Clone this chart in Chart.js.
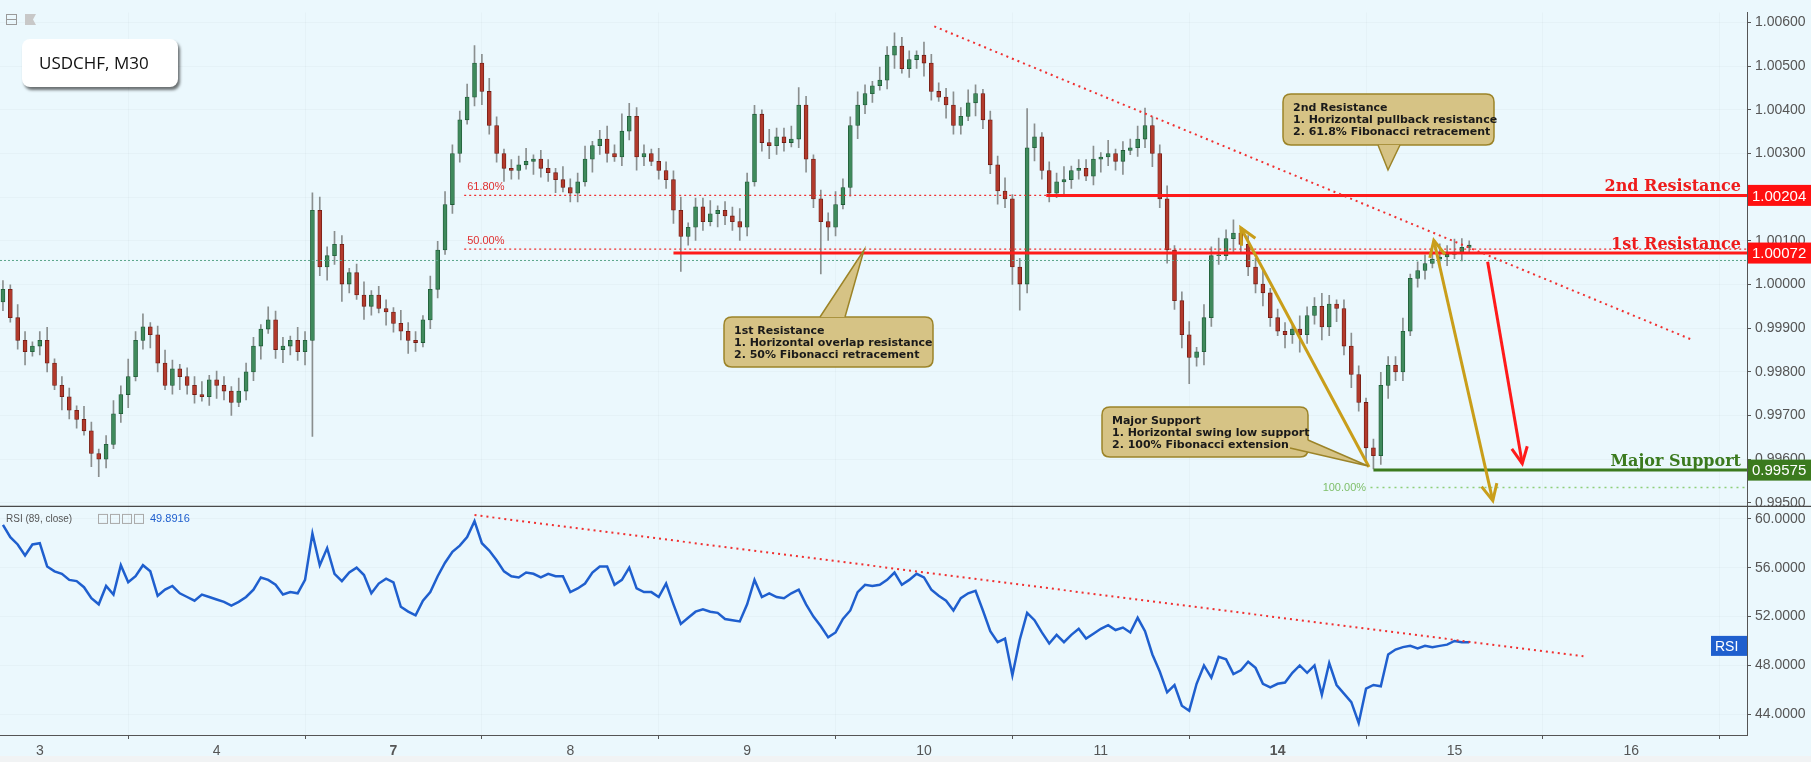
<!DOCTYPE html>
<html><head><meta charset="utf-8">
<script src="https://cdn.jsdelivr.net/npm/chart.js@4"></script>
<style>html,body{margin:0;padding:0;background:#ebf8fd;}canvas{display:block}</style>
</head><body>
<canvas id="c" width="1811" height="762"></canvas>
<script>
const dayTicks = [5,29,53,77,101,125,149,173,197,221];
const dayLabels = ['3','4','7','8','9','10','11','14','15','16'];
const priceTicks = [0.995,0.996,0.997,0.998,0.999,1.000,1.001,1.002,1.003,1.004,1.005,1.006];
const rsiTicks = [44,48,52,56,60];
const firstOpen = 0.99960;
const closes = [
0.99989,0.99924,0.99872,0.99846,0.99859,0.99872,0.99820,0.99769,0.99743,0.99712,
0.99691,0.99665,0.99613,0.99600,0.99634,0.99704,0.99748,0.99789,0.99872,0.99903,
0.99885,0.99820,0.99769,0.99807,0.99789,0.99769,0.99748,0.99743,0.99782,0.99769,
0.99756,0.99730,0.99756,0.99800,0.99859,0.99898,0.99919,0.99851,0.99859,0.99872,
0.99846,0.99872,1.00170,1.00040,1.00066,1.00092,1.00001,1.00027,0.99976,0.99950,
0.99976,0.99945,0.99937,0.99911,0.99893,0.99872,0.99867,0.99919,0.99989,1.00079,
1.00183,1.00300,1.00377,1.00429,1.00507,1.00442,1.00364,1.00300,1.00266,1.00261,
1.00274,1.00282,1.00287,1.00266,1.00256,1.00240,1.00222,1.00209,1.00235,1.00287,
1.00318,1.00333,1.00300,1.00292,1.00351,1.00385,1.00292,1.00300,1.00282,1.00261,
1.00240,1.00170,1.00110,1.00131,1.00178,1.00144,1.00162,1.00170,1.00157,1.00144,
1.00131,1.00235,1.00390,1.00325,1.00318,1.00338,1.00325,1.00333,1.00411,1.00287,
1.00196,1.00144,1.00131,1.00183,1.00222,1.00364,1.00411,1.00437,1.00455,1.00468,
1.00525,1.00546,1.00494,1.00515,1.00525,1.00507,1.00442,1.00429,1.00411,1.00364,
1.00385,1.00416,1.00437,1.00377,1.00274,1.00214,1.00196,1.00040,1.00001,1.00313,
1.00338,1.00261,1.00209,1.00235,1.00240,1.00261,1.00266,1.00248,1.00287,1.00292,
1.00300,1.00282,1.00307,1.00313,1.00333,1.00364,1.00300,1.00196,1.00079,0.99963,
0.99885,0.99833,0.99846,0.99924,1.00066,1.00066,1.00105,1.00118,1.00092,1.00040,
1.00001,0.99981,0.99924,0.99893,0.99885,0.99898,0.99885,0.99929,0.99950,0.99903,
0.99955,0.99945,0.99859,0.99794,0.99730,0.99626,0.99608,0.99769,0.99815,0.99800,
0.99893,1.00014,1.00032,1.00048,1.00058,1.00063,1.00069,1.00074,1.00085,1.00090];
const wickUpPips = [
2,1,3,2,1,2,3,1,2,2, 1,3,2,1,2,3,2,4,2,3, 1,2,3,2,1,2,2,3,1,2, 2,1,3,2,2,1,3,2,2,1,
3,2,4,3,2,3,2,1,2,3, 1,2,2,1,3,2,2,1,3,2, 3,2,2,3,4,2,3,2,1,2, 2,3,1,2,2,1,3,2,2,3,
1,2,3,2,4,3,2,2,1,3, 2,2,3,1,2,2,3,1,2,2, 3,2,2,1,3,2,2,3,4,2, 1,2,2,3,2,2,3,2,1,3,
2,3,2,2,1,3,2,2,2,3, 2,3,2,1,2,2,3,1,2,9, 3,1,2,2,3,1,2,2,3,1, 3,1,2,2,3,4,2,2,3,1,
2,3,1,3,2,4,2,3,1,2, 2,3,1,2,2,1,3,2,2,3, 2,1,2,3,2,1,2,3,2,2, 3,1,2,2,2,3,2,3,2,1];
const wickDnPips = [
2,1,2,3,1,2,2,1,3,2, 2,1,3,4,2,1,2,3,1,2, 3,2,1,2,3,2,2,1,2,3, 2,3,1,2,2,3,1,2,3,2,
2,3,22,2,3,2,4,2,1,3, 2,1,3,2,2,3,2,1,2,2, 1,2,2,1,2,3,2,2,3,2, 2,1,3,2,2,3,1,2,2,1,
3,2,2,1,2,2,3,2,1,2, 2,3,8,2,3,2,1,3,2,2, 3,2,1,2,3,2,2,1,2,3, 2,12,3,2,1,2,3,2,2,1,
2,3,1,2,2,3,2,1,3,2, 2,1,3,2,2,3,2,4,6,2, 3,2,2,1,3,2,2,1,2,3, 2,2,3,1,2,2,3,2,3,2,
3,6,2,3,2,2,1,3,2,2, 2,3,2,1,3,2,4,2,2,3, 2,3,2,3,2,3,3,2,3,2, 2,1,2,2,1,2,2,1,2,1];
const rsiValues = [
59.5,58.5,57.9,57.0,57.9,58.0,56.1,55.7,55.5,55.0, 54.9,54.4,53.5,53.0,54.5,53.8,56.2,54.8,55.3,56.2,
55.7,53.7,54.2,54.5,53.9,53.6,53.3,53.8,53.6,53.4, 53.2,52.9,53.2,53.6,54.2,55.2,55.0,54.6,53.8,54.0,
53.9,55.0,58.8,56.2,57.6,55.5,54.9,55.6,56.0,55.4, 53.9,54.7,55.1,54.8,52.8,52.4,52.1,53.3,54.0,55.3,
56.4,57.3,57.8,58.5,59.8,58.0,57.4,56.6,55.7,55.3, 55.2,55.6,55.5,55.2,55.5,55.3,55.3,54.0,54.3,54.7,
55.6,56.1,56.1,54.6,55.0,56.0,54.3,54.0,54.0,53.6, 54.7,53.0,51.4,51.9,52.4,52.6,52.4,52.3,51.8,51.7,
51.6,53.0,55.0,53.6,53.9,53.6,53.5,53.9,54.2,53.0, 52.0,51.2,50.3,50.7,51.8,52.5,54.0,54.6,54.5,54.6,
55.0,55.6,54.6,55.0,55.5,55.2,54.2,53.7,53.3,52.5, 53.5,53.9,54.1,52.5,50.8,49.9,50.2,47.2,50.1,52.3,
51.7,50.7,49.8,50.5,49.9,50.5,51.0,50.2,50.6,51.0, 51.3,50.9,51.1,50.7,51.9,50.8,48.9,47.5,45.8,46.4,
44.7,44.3,46.5,48.0,47.0,48.7,48.5,47.3,47.6,48.3, 47.8,46.5,46.2,46.5,46.6,47.4,48.0,47.4,48.0,45.6,
48.2,46.4,45.7,45.0,43.3,46.1,46.4,46.3,48.9,49.3, 49.5,49.6,49.4,49.6,49.5,49.6,49.7,50.0,49.9,49.9];

const bodies=[], wicks=[], bodyCol=[], bodyBorder=[];
for(let i=0;i<closes.length;i++){
  const o = i===0?firstOpen:closes[i-1], c = closes[i];
  const hi = Math.max(o,c)+wickUpPips[i]*0.0001, lo = Math.min(o,c)-wickDnPips[i]*0.0001;
  bodies.push({x:i,y:[o, c===o?c+0.00002:c]});
  wicks.push({x:i,y:[lo,hi]});
  const up=c>=o;
  bodyCol.push(up?'#3f8a5c':'#b23a2c'); bodyBorder.push(up?'#1f5a36':'#6e1a12');
}
const rsiPts = rsiValues.map((v,i)=>({x:i,y:v}));

const F='"Liberation Sans", Arial, sans-serif';
function tag(ctx,x,y,w,h,bg,txt,font,fg){ctx.fillStyle=bg;ctx.fillRect(x,y-h/2,w,h);ctx.fillStyle=fg;ctx.font=font;ctx.textBaseline='middle';ctx.textAlign='left';ctx.fillText(txt,x+4,y+1);}
function hline(ctx,x1,x2,y,col,w,dash){ctx.save();ctx.strokeStyle=col;ctx.lineWidth=w;ctx.setLineDash(dash||[]);ctx.beginPath();ctx.moveTo(x1,y);ctx.lineTo(x2,y);ctx.stroke();ctx.restore();}
function line(ctx,a,b,col,w,dash){ctx.save();ctx.strokeStyle=col;ctx.lineWidth=w;ctx.setLineDash(dash||[]);ctx.beginPath();ctx.moveTo(a[0],a[1]);ctx.lineTo(b[0],b[1]);ctx.stroke();ctx.restore();}
function head(ctx,from,to,col,w,len){const ang=Math.atan2(to[1]-from[1],to[0]-from[0]);ctx.save();ctx.strokeStyle=col;ctx.lineWidth=w;ctx.beginPath();
 ctx.moveTo(to[0]-len*Math.cos(ang-0.45),to[1]-len*Math.sin(ang-0.45));ctx.lineTo(to[0],to[1]);ctx.lineTo(to[0]-len*Math.cos(ang+0.45),to[1]-len*Math.sin(ang+0.45));ctx.stroke();ctx.restore();}
function callout(ctx,x,y,w,h,tip,base,lines){ctx.save();ctx.fillStyle='#d6c385';ctx.strokeStyle='#9c8428';ctx.lineWidth=1.5;
 const r=8;ctx.beginPath();ctx.moveTo(x+r,y);ctx.lineTo(x+w-r,y);ctx.quadraticCurveTo(x+w,y,x+w,y+r);ctx.lineTo(x+w,y+h-r);ctx.quadraticCurveTo(x+w,y+h,x+w-r,y+h);
 ctx.lineTo(x+r,y+h);ctx.quadraticCurveTo(x,y+h,x,y+h-r);ctx.lineTo(x,y+r);ctx.quadraticCurveTo(x,y,x+r,y);ctx.closePath();ctx.fill();ctx.stroke();
 ctx.beginPath();ctx.moveTo(base[0][0],base[0][1]);ctx.lineTo(tip[0],tip[1]);ctx.lineTo(base[1][0],base[1][1]);ctx.closePath();ctx.fill();
 ctx.beginPath();ctx.moveTo(base[0][0],base[0][1]);ctx.lineTo(tip[0],tip[1]);ctx.lineTo(base[1][0],base[1][1]);ctx.stroke();
 ctx.fillStyle='#1a1a1a';ctx.font='bold 11px "DejaVu Sans", Verdana, sans-serif';ctx.textAlign='left';ctx.textBaseline='alphabetic';
 lines.forEach((t,i)=>ctx.fillText(t,x+10,y+17+i*12));ctx.restore();}

const annot={id:'annot',
 beforeDraw(ch){const c=ch.ctx;c.save();c.fillStyle='#ebf8fd';c.fillRect(0,0,ch.width,ch.height);c.fillStyle='#f1f3f4';c.fillRect(0,ch.height-6,ch.width,6);c.restore();},
 afterDatasetsDraw(ch){
  const c=ch.ctx,X=ch.scales.x,Y=ch.scales.y,R=ch.scales.yr;const xr=Y.left;
  const px=h=>X.getPixelForValue(h), py=p=>Y.getPixelForValue(p), pr=v=>R.getPixelForValue(v);
  hline(c,0,xr,py(1.00055),'#5aa58a',1,[2,2]);
  hline(c,px(62.6),xr,py(1.00204),'#f03030',1.2,[2,3]);
  hline(c,px(62.6),xr,py(1.00081),'#f03030',1.2,[2,3]);
  c.save();c.font='11px '+F;c.fillStyle='#e03030';c.textBaseline='bottom';c.fillText('61.80%',px(63),py(1.00204)-3);c.fillText('50.00%',px(63),py(1.00081)-3);c.restore();
  hline(c,px(141.6),xr,py(1.00204),'#ff1a1a',3);
  hline(c,px(91),xr,py(1.00072),'#ff1a1a',3);
  hline(c,px(185.6),xr,py(0.99535),'#8fcf7a',1.5,[2,4]);
  hline(c,px(186),xr,py(0.99575),'#3b7a1e',3);
  c.save();c.font='11px '+F;c.fillStyle='#7fbf6a';c.textAlign='right';c.textBaseline='middle';c.fillText('100.00%',px(185),py(0.99535));c.restore();
  line(c,[px(126.4),py(1.00591)],[px(229.3),py(0.99873)],'#f03030',2,[2,4]);
  line(c,[px(64),pr(60.3)],[px(214.5),pr(48.75)],'#f03030',2,[2,4]);
  const g='#c99e1a';
  const a1=[px(185.4),py(0.99582)],a1t=[px(168),py(1.00130)];
  line(c,a1,a1t,g,3);head(c,a1,a1t,g,3,18);
  const a2=[px(194.2),py(1.00101)],a2b=[px(202.2),py(0.99505)];
  line(c,a2,a2b,g,3);head(c,a2b,a2,g,3,18);head(c,a2,a2b,g,3,18);
  const r1=[px(201.5),py(1.00052)],r2=[px(206.2),py(0.99590)];
  line(c,r1,r2,'#ff1a1a',3);head(c,r1,r2,'#ff1a1a',3,18);
  callout(c,1283,94,211,51,[1388,170],[[1378,145],[1400,145]],['2nd Resistance','1. Horizontal pullback resistance','2. 61.8% Fibonacci retracement']);
  callout(c,724,317,209,50,[864,250],[[820,317],[845,317]],['1st Resistance','1. Horizontal overlap resistance','2. 50% Fibonacci retracement']);
  callout(c,1102,407,206,50,[1368,466],[[1290,448],[1308,440]],['Major Support','1. Horizontal swing low support','2. 100% Fibonacci extension']);
  tag(c,1711,pr(49.6),36,20,'#1f5fce','RSI','14px '+F,'#fff');
 },
 afterDraw(ch){
  const c=ch.ctx,Y=ch.scales.y,R=ch.scales.yr;const xr=Y.left;const py=p=>Y.getPixelForValue(p);
  hline(c,0,ch.width,R.top+0.5,'#4a4a4a',1.2);
  c.save();c.font='bold 16px "DejaVu Serif", serif';c.textAlign='right';c.textBaseline='alphabetic';
  c.fillStyle='#ee1c1c';c.fillText('2nd Resistance',xr-6,py(1.00204)-4);c.fillText('1st Resistance',xr-6,py(1.00072)-4);
  c.fillStyle='#3b7a1e';c.fillText('Major Support',xr-6,py(0.99575)-4);c.restore();
  tag(c,xr+1,py(1.00204),64,21,'#ff1010','1.00204','15px '+F,'#fff');
  tag(c,xr+1,py(1.00072),64,21,'#ff1010','1.00072','15px '+F,'#fff');
  tag(c,xr+1,py(0.99575),64,21,'#3b7a1e','0.99575','15px '+F,'#fff');
  c.save();c.shadowColor='rgba(0,0,0,0.55)';c.shadowOffsetX=2;c.shadowOffsetY=3;c.shadowBlur=3;c.fillStyle='#fff';
  c.beginPath();c.roundRect(22,39,156,48,8);c.fill();c.restore();
  c.save();c.fillStyle='#111';c.font='17px "Open Sans", '+F;c.textBaseline='middle';c.fillText('USDCHF, M30',39,64);
  c.strokeStyle='#9a9a9a';c.lineWidth=1;c.strokeRect(6.5,14.5,10,10);hline(c,7,17,19.5,'#9a9a9a',1);
  c.fillStyle='#c8c8c8';c.beginPath();c.moveTo(25,14);c.lineTo(36,14);c.lineTo(33,19.5);c.lineTo(36,25);c.lineTo(25,25);c.fill();
  c.font='10px '+F;c.fillStyle='#555';c.textBaseline='middle';c.fillText('RSI (89, close)',6,R.top+13);
  c.strokeStyle='#aaa';for(let k=0;k<4;k++){c.strokeRect(98.5+k*12,R.top+8.5,9,9);}
  c.fillStyle='#1f5fce';c.font='11px '+F;c.fillText('49.8916',150,R.top+13);
  c.restore();
 }};

new Chart(document.getElementById('c'),{
 type:'bar',
 data:{datasets:[
  {type:'line',data:rsiPts,xAxisID:'x',yAxisID:'yr',borderColor:'#1f5fce',backgroundColor:'#1f5fce',borderWidth:2.5,pointRadius:0,tension:0,fill:false,order:0},
  {data:wicks,xAxisID:'x',yAxisID:'y',backgroundColor:'#8a8f8f',barThickness:1,grouped:false,order:2},
  {data:bodies,xAxisID:'x',yAxisID:'y',backgroundColor:bodyCol,borderColor:bodyBorder,borderWidth:0.8,borderSkipped:false,barThickness:4,grouped:false,order:1}
 ]},
 options:{responsive:false,animation:false,devicePixelRatio:1,
  layout:{padding:0},
  plugins:{legend:{display:false},tooltip:{enabled:false}},
  scales:{
   x:{type:'linear',min:-0.4,max:236.7,position:'bottom',offset:false,
     afterBuildTicks:s=>{s.ticks=dayTicks.map(v=>({value:v}));},
     afterFit:s=>{s.height=27;},
     ticks:{autoSkip:false,maxRotation:0,padding:4,color:'#555',
       font:ctx=>({family:F,size:14,weight:(ctx.tick&&(ctx.tick.value===53||ctx.tick.value===173))?'bold':'normal'}),
       callback:v=>dayLabels[dayTicks.indexOf(v)]??''},
     grid:{color:'rgba(0,0,0,0.025)',tickColor:'#555',tickLength:4,drawTicks:true},
     border:{color:'#555'}},
   y:{type:'linear',axis:'y',position:'right',stack:'s',stackWeight:502,min:0.99493,max:1.00623,
     afterBuildTicks:s=>{s.ticks=priceTicks.map(v=>({value:v}));},
     afterFit:s=>{s.width=64;},
     ticks:{color:'#555',font:{family:F,size:14},padding:4,callback:v=>v.toFixed(5)},
     grid:{color:'rgba(0,0,0,0.025)',tickColor:'#555',tickLength:4},border:{color:'#555'}},
   yr:{type:'linear',axis:'y',position:'right',stack:'s',stackWeight:233,min:42.31,max:61.05,
     afterBuildTicks:s=>{s.ticks=rsiTicks.map(v=>({value:v}));},
     afterFit:s=>{s.width=64;},
     ticks:{color:'#555',font:{family:F,size:14},padding:4,callback:v=>v.toFixed(4)},
     grid:{color:'rgba(0,0,0,0.025)',tickColor:'#555',tickLength:4},border:{color:'#555'}}
  }},
 plugins:[annot]
});
</script>
</body></html>
